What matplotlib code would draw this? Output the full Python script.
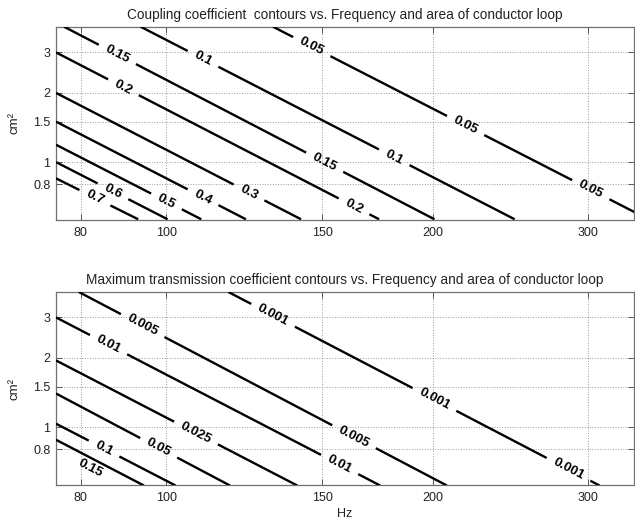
import numpy as np
import matplotlib
matplotlib.use('Agg')
import matplotlib.pyplot as plt
from matplotlib.ticker import FixedLocator, FixedFormatter, NullLocator

plt.rcParams['font.family'] = ['Liberation Sans', 'DejaVu Sans']

# ── Axes ranges and ticks ───────────────────────────────────
FREQ_LIM = (75, 338)
AREA_LIM = (0.56, 3.87)
FREQ_TICKS = [80, 100, 150, 200, 300]
FREQ_TICK_LABELS = ['80', '100', '150', '200', '300']
AREA_TICKS = [0.8, 1, 1.5, 2, 3]
AREA_TICK_LABELS = ['0.8', '1', '1.5', '2', '3']

# ── Coupling coefficient contours (Hz, cm^2 end points) ─────
K_LEVELS = ['0.05', '0.1', '0.15', '0.2', '0.3', '0.4', '0.5', '0.6', '0.7']
K_FREQ_START = [132, 93.5, 76.6, 75, 75, 75, 75, 75, 75]
K_AREA_START = [3.88, 3.88, 3.88, 3.0, 2.0, 1.5, 1.19, 1.0, 0.85]
K_FREQ_END = [351, 247.7, 201, 174, 142, 123, 109.5, 100.3, 92.9]
K_AREA_END = [0.564, 0.564, 0.564, 0.564, 0.564, 0.564, 0.564, 0.564, 0.564]
K_LABEL_FREQ = [[146, 218, 302], [110, 181], [88, 151], [89.4, 163],
                [124], [110], [100], [87], [83]]
K_LOOSE_LABELS = []

# ── Maximum transmission coefficient contours ───────────────
T_LEVELS = ['0.001', '0.005', '0.01', '0.025', '0.05', '0.1', '0.15']
T_FREQ_START = [117.5, 79.6, 75, 75, 75, 75, 75]
T_AREA_START = [3.87, 3.87, 3.0, 1.95, 1.40, 1.035, 0.881]
T_FREQ_END = [309, 207.6, 174.5, 140.6, 118, 102.4, 94.3]
T_AREA_END = [0.557, 0.557, 0.557, 0.557, 0.557, 0.557, 0.557]
T_LABEL_FREQ = [[132, 201, 285], [94, 163], [86, 157], [108], [98], [85], []]
# the 0.15 label sits just under its own line
T_LOOSE_LABELS = [('0.15', 82.1, 0.659)]

TITLES = ['Coupling coefficient  contours vs. Frequency and area of conductor loop',
          'Maximum transmission coefficient contours vs. Frequency and area of conductor loop']

LINE_W = 1.7
LABEL_SIZE = 9.5
GAP_PAD = 8  # px of clear line either side of a label
TEXT_C = '#222222'


def style_axes(ax, title, xlabel=None):
    ax.set_xscale('log')
    ax.set_yscale('log')
    ax.set_xlim(*FREQ_LIM)
    ax.set_ylim(*AREA_LIM)
    ax.set_autoscale_on(False)
    ax.xaxis.set_major_locator(FixedLocator(FREQ_TICKS))
    ax.xaxis.set_major_formatter(FixedFormatter(FREQ_TICK_LABELS))
    ax.yaxis.set_major_locator(FixedLocator(AREA_TICKS))
    ax.yaxis.set_major_formatter(FixedFormatter(AREA_TICK_LABELS))
    ax.xaxis.set_minor_locator(NullLocator())
    ax.yaxis.set_minor_locator(NullLocator())
    ax.tick_params(direction='in', length=4, width=0.7, colors='#555555',
                   labelcolor=TEXT_C, labelsize=9, top=True, right=True)
    ax.tick_params(axis='x', pad=5)
    ax.tick_params(axis='y', pad=4)
    for sp in ax.spines.values():
        sp.set_color('#707070')
        sp.set_linewidth(0.9)
    ax.grid(True, linestyle=':', color='#9a9a9a', linewidth=0.7)
    ax.set_axisbelow(True)
    ax.set_title(title, fontsize=9.8, color=TEXT_C, pad=6)
    ax.set_ylabel('cm\u00b2', fontsize=9.5, color=TEXT_C, labelpad=9)
    if xlabel:
        ax.set_xlabel(xlabel, fontsize=9, color=TEXT_C, labelpad=3)


def draw_contours(ax, renderer, levels, f0s, a0s, f1s, a1s, label_freqs, loose):
    angles = {}
    for lev, f0, a0, f1, a1, lfs in zip(levels, f0s, a0s, f1s, a1s, label_freqs):
        p = ax.transData.transform([[f0, a0], [f1, a1]])
        d = p[1] - p[0]
        length = np.hypot(d[0], d[1])
        angle = np.degrees(np.arctan2(d[1], d[0]))
        angles[lev] = angle
        lf0, lf1 = np.log10(f0), np.log10(f1)
        la0, la1 = np.log10(a0), np.log10(a1)

        cuts = []
        for f in lfs:
            t = (np.log10(f) - lf0) / (lf1 - lf0)
            a = 10 ** (la0 + t * (la1 - la0))
            txt = ax.text(f, a, lev, fontsize=LABEL_SIZE, fontweight='bold',
                          ha='center', va='center', rotation_mode='anchor',
                          zorder=4)
            w = txt.get_window_extent(renderer).width
            txt.set_rotation(angle)
            half = (w / 2 + GAP_PAD) / length
            cuts.append((t - half, t + half))

        edges = [0.0]
        for c0, c1 in sorted(cuts):
            edges += [c0, c1]
        edges.append(1.0)
        for ta, tb in zip(edges[::2], edges[1::2]):
            if tb <= ta:
                continue
            ts = np.array([ta, tb])
            ax.plot(10 ** (lf0 + ts * (lf1 - lf0)), 10 ** (la0 + ts * (la1 - la0)),
                    color='black', lw=LINE_W, solid_capstyle='butt', zorder=3)

    for lev, f, a in loose:
        ax.text(f, a, lev, fontsize=LABEL_SIZE, fontweight='bold', ha='center',
                va='center', rotation=angles[lev], rotation_mode='anchor', zorder=4)


fig = plt.figure(figsize=(6.35, 5.23), dpi=100)
ax1 = fig.add_axes([56 / 635, 1 - 220 / 523, 578 / 635, 193 / 523])
ax2 = fig.add_axes([56 / 635, 1 - 485 / 523, 578 / 635, 193 / 523])
style_axes(ax1, TITLES[0])
style_axes(ax2, TITLES[1], xlabel='Hz')

renderer = fig.canvas.get_renderer()
draw_contours(ax1, renderer, K_LEVELS, K_FREQ_START, K_AREA_START,
              K_FREQ_END, K_AREA_END, K_LABEL_FREQ, K_LOOSE_LABELS)
draw_contours(ax2, renderer, T_LEVELS, T_FREQ_START, T_AREA_START,
              T_FREQ_END, T_AREA_END, T_LABEL_FREQ, T_LOOSE_LABELS)

fig.savefig('out.png', dpi=100, facecolor='white')
plt.close(fig)
